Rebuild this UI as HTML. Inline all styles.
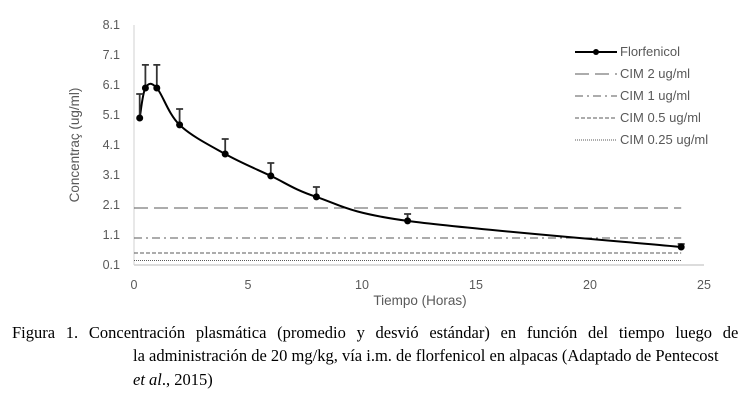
<!DOCTYPE html>
<html><head><meta charset="utf-8"><style>
body{margin:0;background:#fff;width:756px;height:402px;overflow:hidden;position:relative}
.cap{position:absolute;font-family:"Liberation Serif",serif;font-size:16.5px;color:#000;white-space:nowrap}
</style></head><body>
<svg width="756" height="320" style="position:absolute;left:0;top:0" font-family="Liberation Sans, sans-serif">
<g id="axes"></g><g id="plot"></g><g id="legend"></g>
</svg>
<div class="cap" style="left:12px;top:323px;word-spacing:6.6px">Figura 1. Concentración plasmática (promedio y desvió estándar) en función del tiempo luego de</div>
<div class="cap" style="left:133px;top:346px">la administración de 20 mg/kg, vía i.m. de florfenicol en alpacas (Adaptado de Pentecost</div>
<div class="cap" style="left:133px;top:370px"><i>et al</i>., 2015)</div>
<script>
const times=[0.25,0.5,1,2,4,6,8,12,24];
const conc=[5.0,6.0,6.0,4.77,3.8,3.07,2.37,1.57,0.7];
const errTop=[5.8,6.77,6.77,5.3,4.3,3.5,2.7,1.8,0.8];
const cimValues=[2,1,0.5,0.25];
const cimLabels=["CIM 2 ug/ml","CIM 1 ug/ml","CIM 0.5 ug/ml","CIM 0.25 ug/ml"];
const cimDash=["14,6","8,4,2,4","4,2","1,1"];
const yTicks=[0.1,1.1,2.1,3.1,4.1,5.1,6.1,7.1,8.1];
const xTicks=[0,5,10,15,20,25];
const NS="http://www.w3.org/2000/svg";
const X=v=>134+v*22.8, Y=v=>265-(v-0.1)*30;
function mk(p,t,a){const e=document.createElementNS(NS,t);for(const k in a)e.setAttribute(k,a[k]);document.getElementById(p).appendChild(e);return e;}
let e;
e=mk('axes','line',{x1:134,y1:Y(8.1),x2:134,y2:265,stroke:'#d0d0d0','stroke-width':1});


e=mk('axes','line',{x1:134,y1:265,x2:X(25),y2:265,stroke:'#d0d0d0','stroke-width':1.5});


yTicks.forEach(v=>{e=mk('axes','text',{x:120,y:Y(v)+4,'text-anchor':'end','font-size':12.5,fill:'#595959'});e.textContent=v.toFixed(1);

});
xTicks.forEach(v=>{e=mk('axes','text',{x:X(v),y:289,'text-anchor':'middle','font-size':12.5,fill:'#595959'});e.textContent=v;

});
e=mk('axes','text',{x:0,y:0,transform:'translate(79,145) rotate(-90)','text-anchor':'middle','font-size':13.5,fill:'#595959'});e.textContent='Concentraç (ug/ml)';


e=mk('axes','text',{x:420,y:305,'text-anchor':'middle','font-size':13.5,fill:'#595959'});e.textContent='Tiempo (Horas)';


cimValues.forEach((v,i)=>{e=mk('plot','line',{x1:134,x2:X(24),y1:Y(v),y2:Y(v),stroke:'#595959','stroke-width':1,'stroke-dasharray':cimDash[i]});

});
const P=times.map((t,i)=>[X(t),Y(conc[i])]);
let d='M'+P[0][0]+','+P[0][1];
for(let i=0;i<P.length-1;i++){const p0=P[i-1]||P[i],p1=P[i],p2=P[i+1],p3=P[i+2]||P[i+1];
d+=` C${p1[0]+(p2[0]-p0[0])/6},${p1[1]+(p2[1]-p0[1])/6} ${p2[0]-(p3[0]-p1[0])/6},${p2[1]-(p3[1]-p1[1])/6} ${p2[0]},${p2[1]}`;}
e=mk('plot','path',{d:d,fill:'none',stroke:'#000','stroke-width':2});


times.forEach((t,i)=>{const x=X(t);
e=mk('plot','path',{d:`M${x},${Y(conc[i])}V${Y(errTop[i])}M${x-3.5},${Y(errTop[i])}H${x+3.5}`,stroke:'#333','stroke-width':1.8,fill:'none'});


e=mk('plot','circle',{cx:x,cy:Y(conc[i]),r:3.5,fill:'#000'});

});
e=mk('legend','line',{x1:575,x2:617,y1:52,y2:52,stroke:'#000','stroke-width':2});


e=mk('legend','circle',{cx:596,cy:52,r:3,fill:'#000'});


e=mk('legend','text',{x:620,y:56,'font-size':13,fill:'#595959'});e.textContent='Florfenicol';


cimLabels.forEach((l,i)=>{const y=74+i*22;
e=mk('legend','line',{x1:575,x2:617,y1:y,y2:y,stroke:'#595959','stroke-width':1,'stroke-dasharray':cimDash[i]});


e=mk('legend','text',{x:620,y:y+4,'font-size':13,fill:'#595959'});e.textContent=l;

});
</script>
</body></html>
